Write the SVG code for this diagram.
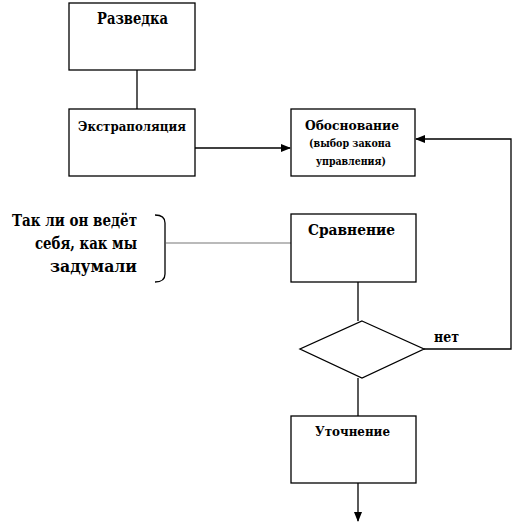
<svg xmlns="http://www.w3.org/2000/svg" width="513" height="524" viewBox="0 0 513 524">
<defs>
<style>
.box{fill:#fff;stroke:#000;stroke-width:1.3}
.ln{fill:none;stroke:#000;stroke-width:1.3}
.t{font-family:'DejaVu Serif',serif;font-weight:bold;fill:#000;text-anchor:middle}
.r{text-anchor:end}
</style>
<marker id="ah" markerWidth="10" markerHeight="8" refX="9" refY="4" orient="auto" markerUnits="userSpaceOnUse">
<path d="M0,0 L10,4 L0,8 Z" fill="#000"/>
</marker>
</defs>
<rect width="513" height="524" fill="#fff"/>
<g id="connectors">
<line class="ln" x1="137" y1="70" x2="137" y2="109"/>
<line class="ln" x1="195" y1="148" x2="290" y2="148" marker-end="url(#ah)"/>
<polyline class="ln" points="424,349 511,349 511,139 416,139" marker-end="url(#ah)"/>
<line x1="166" y1="243" x2="291" y2="243" stroke="#777" stroke-width="1.2"/>
<line class="ln" x1="358" y1="282" x2="358" y2="321"/>
<line class="ln" x1="358" y1="378" x2="358" y2="416"/>
<line class="ln" x1="358" y1="483" x2="358" y2="521" marker-end="url(#ah)"/>
</g>
<g id="razvedka">
<rect class="box" x="69" y="3" width="126" height="67"/>
<text class="t" x="132.5" y="24" font-size="16" textLength="71" lengthAdjust="spacingAndGlyphs">Разведка</text>
</g>
<g id="extrapolation">
<rect class="box" x="69" y="109" width="126" height="67"/>
<text class="t" x="132" y="131" font-size="13" textLength="108" lengthAdjust="spacingAndGlyphs">Экстраполяция</text>
</g>
<g id="obosnovanie">
<rect class="box" x="291" y="109" width="124" height="67"/>
<text class="t" x="352" y="130" font-size="13" textLength="94" lengthAdjust="spacingAndGlyphs">Обоснование</text>
<text class="t" x="350" y="147" font-size="11" textLength="82" lengthAdjust="spacingAndGlyphs">(выбор закона</text>
<text class="t" x="351" y="165" font-size="11" textLength="70" lengthAdjust="spacingAndGlyphs">управления)</text>
</g>
<g id="question">
<text class="t r" x="137" y="226" font-size="17" textLength="125" lengthAdjust="spacingAndGlyphs">Так ли он ведёт</text>
<text class="t r" x="137" y="249" font-size="17" textLength="102" lengthAdjust="spacingAndGlyphs">себя, как мы</text>
<text class="t r" x="137" y="272" font-size="17" textLength="87" lengthAdjust="spacingAndGlyphs">задумали</text>
<path d="M155,215 Q165,215 165,223 L165,274 Q165,282 155,282" fill="none" stroke="#000" stroke-width="1.3"/>
</g>
<g id="sravnenie">
<rect class="box" x="291" y="214" width="125" height="68"/>
<text class="t" x="351.5" y="235" font-size="15" textLength="87" lengthAdjust="spacingAndGlyphs">Сравнение</text>
</g>
<g id="decision">
<polygon class="box" points="362,321 424,349 362,378 300,349"/>
<text class="t" x="446.5" y="342" font-size="14" textLength="25" lengthAdjust="spacingAndGlyphs">нет</text>
</g>
<g id="utochnenie">
<rect class="box" x="291" y="416" width="125" height="67"/>
<text class="t" x="352.5" y="436" font-size="12" textLength="75" lengthAdjust="spacingAndGlyphs">Уточнение</text>
</g>
</svg>
